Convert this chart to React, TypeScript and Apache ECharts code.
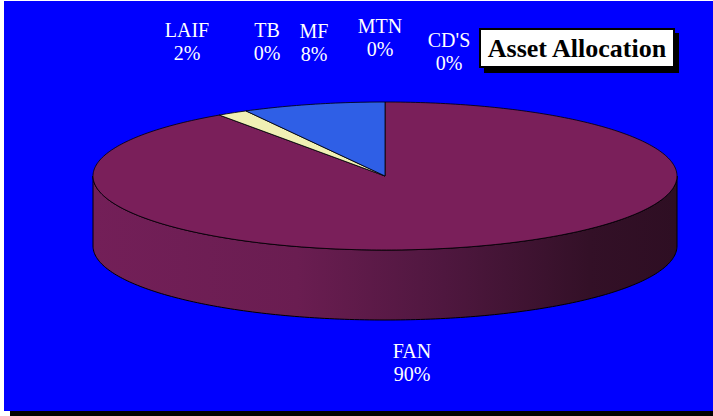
import React, { useEffect, useRef } from "react";
import * as echarts from "echarts";

const categories = ["FAN", "LAIF", "TB", "MF", "MTN", "CD'S"];
const values = [90.4, 1.7, 0, 7.9, 0, 0];
const sliceColors = ["#7a1f5a", "#f0f0b4", "#f0f0b4", "#2f5fe6", "#9999ff", "#ffffcc"];
const labelPos = [
  [412, 339],
  [187, 18],
  [267, 18],
  [314, 19],
  [380, 14],
  [449, 28],
];

const CX = 385;
const CY = 176;
const RX = 292;
const RY = 74;
const DEPTH = 70;

function pt(phi: number, dy = 0): number[] {
  const r = (phi * Math.PI) / 180;
  return [CX + RX * Math.sin(r), CY - RY * Math.cos(r) + dy];
}

function arc(a0: number, a1: number, dy = 0): number[][] {
  const pts: number[][] = [];
  const n = Math.max(2, Math.ceil(Math.abs(a1 - a0) / 1) + 1);
  for (let i = 0; i < n; i++) {
    pts.push(pt(a0 + ((a1 - a0) * i) / (n - 1), dy));
  }
  return pts;
}

export default function App() {
  const ref = useRef<HTMLDivElement>(null);
  useEffect(() => {
    if (!ref.current) return;
    const chart = echarts.init(ref.current, undefined, { renderer: "svg" });
    const total = values.reduce((a, b) => a + b, 0);
    const starts: number[] = [];
    let acc = 0;
    values.forEach((v) => {
      starts.push((acc / total) * 360);
      acc += v;
    });

    const renderItem = (params: any, api: any) => {
      const i = params.dataIndex;
      const v = api.value(0);
      const a0 = starts[i];
      const a1 = a0 + (v / total) * 360;
      const children: any[] = [];
      if (a1 - a0 > 0.01) {
        const s = Math.max(a0, 90);
        const e = Math.min(a1, 270);
        if (e > s) {
          const side = arc(s, e).concat(arc(e, s, DEPTH));
          children.push({
            type: "polygon",
            shape: { points: side },
            style: {
              fill: new echarts.graphic.LinearGradient(0, 0, 1, 0, [
                { offset: 0, color: "#731f58" },
                { offset: 0.35, color: "#6a1d51" },
                { offset: 0.6, color: "#4f173f" },
                { offset: 0.85, color: "#331027" },
                { offset: 1, color: "#2e0e23" },
              ]),
              stroke: "#000",
              lineWidth: 1,
            },
          });
        }
        const top = [[CX, CY]].concat(arc(a0, a1));
        children.push({
          type: "polygon",
          shape: { points: top },
          style: { fill: sliceColors[i], stroke: "#000", lineWidth: 0.8 },
        });
      }
      const pct = Math.round((v / total) * 100);
      children.push({
        type: "text",
        x: labelPos[i][0],
        y: labelPos[i][1],
        style: {
          text: categories[i] + "\n" + pct + "%",
          fill: "#ffffff",
          fontSize: 20,
          fontFamily: "Liberation Serif",
          lineHeight: 23,
          align: "center",
          verticalAlign: "top",
        },
      });
      return { type: "group", children };
    };

    chart.setOption({
      animation: false,
      backgroundColor: "#ffffff",
      graphic: [
        { type: "rect", z: -10, shape: { x: 10, y: 411, width: 703, height: 5 }, style: { fill: "#000" } },
        { type: "rect", z: -10, shape: { x: 4, y: 1, width: 709, height: 410 }, style: { fill: "#0000ff" } },
        {
          type: "group",
          z: 10,
          children: [
            { type: "rect", shape: { x: 484, y: 33, width: 195, height: 40 }, style: { fill: "#000" } },
            { type: "rect", shape: { x: 480, y: 29, width: 194, height: 38 }, style: { fill: "#fff", stroke: "#000", lineWidth: 2 } },
            {
              type: "text",
              x: 577,
              y: 48,
              style: {
                text: "Asset Allocation",
                fill: "#000",
                fontSize: 26,
                fontWeight: "bold",
                fontFamily: "Liberation Serif",
                align: "center",
                verticalAlign: "middle",
              },
            },
          ],
        },
      ],
      series: [
        {
          type: "custom",
          coordinateSystem: "none",
          renderItem,
          data: values.map((v, i) => ({ name: categories[i], value: [v] })),
        },
      ],
    });
    return () => chart.dispose();
  }, []);
  return (
    <div
      ref={ref}
      style={{ position: "absolute", left: 0, top: 0, width: 713, height: 416 }}
    />
  );
}
